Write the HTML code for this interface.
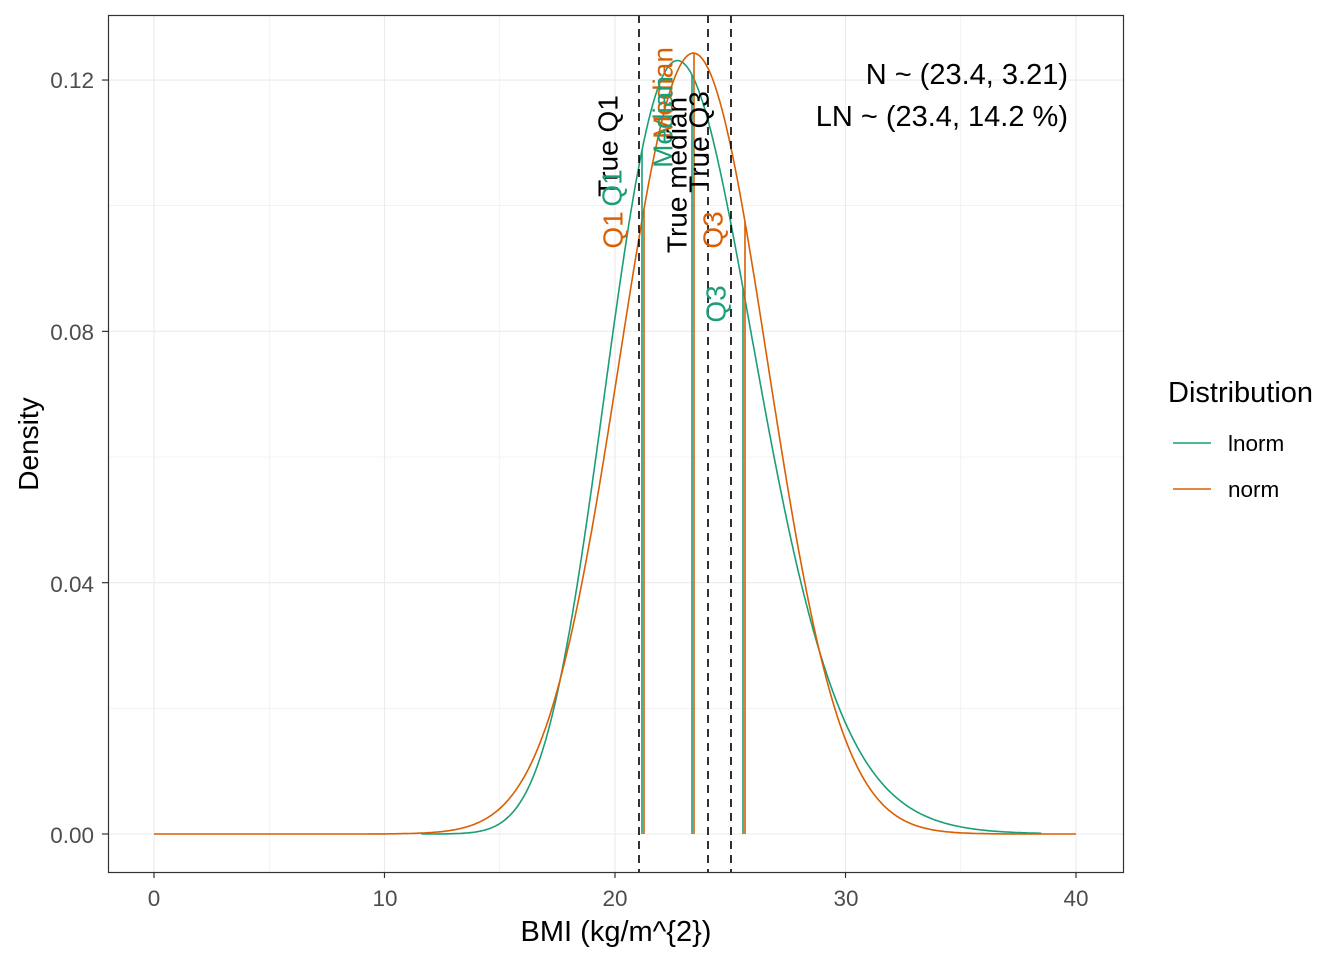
<!DOCTYPE html>
<html><head><meta charset="utf-8"><style>
body{margin:0;background:#fff}
svg text{font-family:"Liberation Sans",Arial,sans-serif}
</style></head><body>
<svg id="s" width="1344" height="960" xmlns="http://www.w3.org/2000/svg">
<rect width="1344" height="960" fill="#fff"/>
<g id="grid" stroke="#ebebeb"></g>
<g id="curves" fill="none" stroke-width="1.6"></g>
<g stroke="#000" stroke-width="1.6" stroke-dasharray="8,6">
<line x1="639" y1="15" x2="639" y2="872"/><line x1="708" y1="15" x2="708" y2="872"/><line x1="731" y1="15" x2="731" y2="872"/>
</g>
<g font-size="28" text-anchor="middle" dominant-baseline="central">
<text transform="translate(608,146) rotate(-90)">True Q1</text>
<text transform="translate(613,230) rotate(-90)" fill="#D95F02">Q1</text>
<text transform="translate(612,188) rotate(-90)" fill="#1B9E77">Q1</text>
<text transform="translate(663,93) rotate(-90)" fill="#D95F02">Median</text>
<text transform="translate(663,122) rotate(-90)" fill="#1B9E77">Median</text>
<text transform="translate(677,175) rotate(-90)">True median</text>
<text transform="translate(699,142) rotate(-90)">True Q3</text>
<text transform="translate(713,230) rotate(-90)" fill="#D95F02">Q3</text>
<text transform="translate(716,304) rotate(-90)" fill="#1B9E77">Q3</text>
</g>
<g font-size="29" text-anchor="end">
<text x="1068" y="84">N ~ (23.4, 3.21)</text>
<text x="1068" y="126">LN ~ (23.4, 14.2 %)</text>
</g>
<rect x="108.5" y="15.5" width="1015" height="857" fill="none" stroke="#333" stroke-width="1.2"/>
<g id="ticks" stroke="#333" stroke-width="1.2"></g>
<g font-size="22.5" fill="#4d4d4d">
<text x="94" y="88" text-anchor="end">0.12</text>
<text x="94" y="340" text-anchor="end">0.08</text>
<text x="94" y="592" text-anchor="end">0.04</text>
<text x="94" y="843" text-anchor="end">0.00</text>
<text x="154" y="906" text-anchor="middle">0</text>
<text x="385" y="906" text-anchor="middle">10</text>
<text x="615" y="906" text-anchor="middle">20</text>
<text x="846" y="906" text-anchor="middle">30</text>
<text x="1076" y="906" text-anchor="middle">40</text>
</g>
<text x="616" y="941" font-size="29" text-anchor="middle">BMI (kg/m^{2})</text>
<text transform="translate(38,444) rotate(-90)" font-size="28" text-anchor="middle">Density</text>
<text x="1168" y="402" font-size="29">Distribution</text>
<line x1="1173" y1="443" x2="1211" y2="443" stroke="#1B9E77" stroke-width="1.6"/>
<line x1="1173" y1="489" x2="1211" y2="489" stroke="#D95F02" stroke-width="1.6"/>
<text x="1228" y="451" font-size="22.5">lnorm</text>
<text x="1228" y="497" font-size="22.5">norm</text>
</svg>
<script>
var X=function(v){return 154+v*23.05},Y=function(d){return 834-d*6283};
var g=document.getElementById('grid'),t=document.getElementById('ticks'),c=document.getElementById('curves');
var h='',tk='';
[0,10,20,30,40].forEach(function(v){h+='<line x1="'+X(v)+'" y1="15" x2="'+X(v)+'" y2="872" stroke-width="1.1"/>';tk+='<line x1="'+X(v)+'" y1="872" x2="'+X(v)+'" y2="878"/>';});
[5,15,25,35].forEach(function(v){h+='<line x1="'+X(v)+'" y1="15" x2="'+X(v)+'" y2="872" stroke-width="0.6"/>';});
[0,0.04,0.08,0.12].forEach(function(v){h+='<line x1="108" y1="'+Y(v)+'" x2="1123" y2="'+Y(v)+'" stroke-width="1.1"/>';tk+='<line x1="102" y1="'+Y(v)+'" x2="108" y2="'+Y(v)+'"/>';});
[0.02,0.06,0.10].forEach(function(v){h+='<line x1="108" y1="'+Y(v)+'" x2="1123" y2="'+Y(v)+'" stroke-width="0.6"/>';});
g.innerHTML=h;t.innerHTML=tk;
var m=23.4,s=3.21,sl=Math.sqrt(Math.log(1+0.142*0.142)),mu=Math.log(23.4)-sl*sl/2;
function dn(x){return Math.exp(-0.5*Math.pow((x-m)/s,2))/(s*Math.sqrt(2*Math.PI));}
function dl(x){return Math.exp(-0.5*Math.pow((Math.log(x)-mu)/sl,2))/(x*sl*Math.sqrt(2*Math.PI));}
var pn='',pl='';
for(var x=0;x<=40.0001;x+=0.05){pn+=(x?'L':'M')+X(x).toFixed(1)+','+Y(dn(x)).toFixed(1);}
for(var x=11.6,f=1;x<=38.5;x+=0.05,f=0){pl+=(f?'M':'L')+X(x).toFixed(1)+','+Y(dl(x)).toFixed(1);}
var o='<path d="'+pl+'" stroke="#1B9E77"/><path d="'+pn+'" stroke="#D95F02"/>';
function vx(px,fn,col){var v=(px-154)/23.05;return '<line x1="'+px+'" y1="834" x2="'+px+'" y2="'+Y(fn(v))+'" stroke="'+col+'"/>';}
o+=vx(642,dl,'#1B9E77')+vx(692,dl,'#1B9E77')+vx(743,dl,'#1B9E77');
o+=vx(644,dn,'#D95F02')+vx(694,dn,'#D95F02')+vx(745,dn,'#D95F02');
c.innerHTML=o;
</script>
</body></html>
